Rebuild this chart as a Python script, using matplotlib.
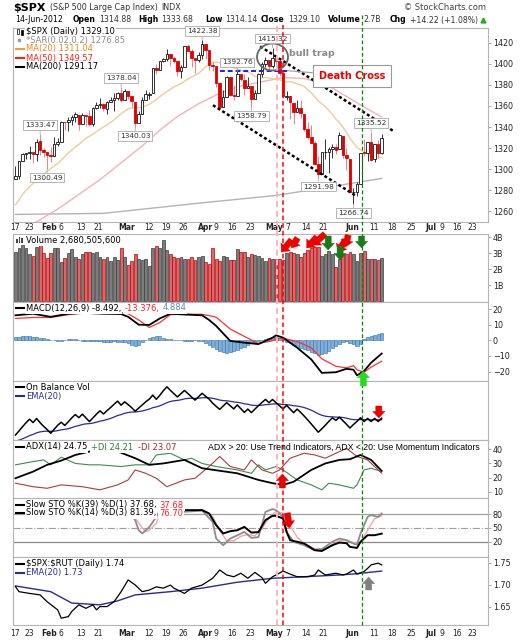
import numpy as np
import pandas as pd
import matplotlib
matplotlib.use('Agg')
import matplotlib.pyplot as plt
from matplotlib.lines import Line2D
from matplotlib.patches import Ellipse, FancyArrowPatch, Rectangle
from matplotlib.transforms import blended_transform_factory

plt.rcParams['font.family'] = ['DejaVu Sans']

# ---------------- data: $SPX daily, 17-Jan-2012 .. 14-Jun-2012 ----------------
opens = [1290.22, 1293.65, 1308.07, 1314.49, 1315.29, 1315.96, 1314.40, 1326.28, 1318.25, 1316.16, 1313.53,
         1312.45, 1324.24, 1326.21, 1344.32, 1344.33, 1347.04, 1349.97, 1351.21, 1343.06, 1351.30,
         1350.52, 1342.61, 1358.06, 1361.22, 1362.11, 1357.53, 1363.46, 1365.20, 1367.56, 1372.20,
         1365.90, 1374.09, 1369.59, 1363.63, 1343.39, 1352.65, 1365.97, 1370.78, 1371.92, 1395.95,
         1394.17, 1402.55, 1404.17, 1409.59, 1405.52, 1402.89, 1392.78, 1397.11, 1416.55, 1412.52, 1405.39, 1403.31,
         1408.47, 1418.98, 1413.09, 1398.79, 1397.45, 1382.18, 1358.98, 1368.77, 1387.61, 1370.27,
         1369.57, 1390.78, 1385.08, 1376.96, 1378.53, 1366.97, 1372.11, 1390.64, 1400.19, 1403.26,
         1397.86, 1405.50, 1402.32, 1391.51, 1368.79, 1369.16, 1363.20, 1354.58, 1358.11, 1351.93,
         1338.36, 1330.78, 1324.82, 1305.05, 1295.73, 1316.09, 1316.02, 1318.72, 1320.81, 1318.90, 1331.25, 1313.09,
         1309.87, 1278.29, 1277.82, 1285.61, 1316.15, 1314.99, 1325.72, 1309.40, 1324.02, 1314.88]
highs = [1303.00, 1308.11, 1315.49, 1315.38, 1322.28, 1315.96, 1328.30, 1333.47, 1320.06, 1316.16, 1321.41,
         1330.52, 1329.19, 1345.34, 1344.36, 1349.24, 1351.00, 1354.32, 1351.21, 1353.35, 1351.30,
         1355.87, 1359.02, 1363.40, 1367.76, 1362.70, 1364.24, 1368.92, 1371.94, 1373.09, 1378.04,
         1376.17, 1374.53, 1369.59, 1363.63, 1354.85, 1368.72, 1374.76, 1373.04, 1396.13, 1399.42,
         1402.63, 1405.88, 1414.00, 1409.59, 1407.75, 1402.89, 1399.18, 1416.58, 1419.15, 1413.65, 1405.39, 1410.89,
         1422.38, 1419.00, 1413.09, 1401.60, 1397.45, 1383.01, 1374.71, 1388.13, 1387.61, 1379.66,
         1392.76, 1390.78, 1390.46, 1387.40, 1378.53, 1375.57, 1391.37, 1402.09, 1406.64, 1403.26,
         1415.32, 1405.50, 1403.07, 1391.51, 1373.91, 1369.16, 1363.73, 1365.88, 1365.66, 1351.93,
         1344.94, 1341.78, 1326.36, 1312.24, 1316.39, 1328.49, 1320.71, 1324.14, 1324.20, 1334.93, 1331.25, 1319.74,
         1309.87, 1282.55, 1287.62, 1315.13, 1329.05, 1325.81, 1335.52, 1324.31, 1327.28, 1333.68]
lows = [1290.22, 1290.99, 1308.07, 1309.17, 1309.89, 1306.06, 1307.65, 1313.60, 1311.72, 1300.49, 1306.69,
        1312.45, 1321.57, 1326.21, 1337.52, 1335.92, 1341.95, 1344.63, 1337.35, 1343.06, 1340.83,
        1340.80, 1341.22, 1357.24, 1358.11, 1355.53, 1352.28, 1363.46, 1354.92, 1365.97, 1363.81,
        1365.90, 1366.42, 1359.13, 1340.03, 1343.39, 1352.65, 1365.97, 1366.69, 1371.92, 1389.97,
        1394.17, 1401.47, 1402.43, 1397.68, 1400.64, 1388.73, 1386.87, 1397.11, 1411.95, 1397.20, 1391.56, 1401.42,
        1404.46, 1404.62, 1394.09, 1392.92, 1378.24, 1357.38, 1358.98, 1368.77, 1369.85, 1365.38,
        1369.57, 1383.29, 1370.30, 1376.96, 1358.79, 1366.82, 1372.11, 1387.28, 1397.31, 1394.00,
        1395.73, 1393.92, 1388.71, 1367.96, 1365.97, 1347.75, 1343.13, 1354.58, 1348.89, 1336.61,
        1328.41, 1324.79, 1304.86, 1291.98, 1295.73, 1310.04, 1296.53, 1310.50, 1314.23, 1318.90, 1310.76, 1298.90,
        1277.25, 1266.74, 1274.16, 1285.61, 1312.68, 1307.77, 1307.73, 1306.62, 1310.51, 1314.14]
closes = [1293.67, 1308.04, 1314.50, 1315.38, 1316.00, 1314.65, 1326.06, 1318.43, 1316.33, 1313.01, 1312.41,
          1324.09, 1325.54, 1344.90, 1344.33, 1347.05, 1349.96, 1351.95, 1342.64, 1351.77, 1350.50,
          1343.23, 1358.04, 1361.23, 1362.21, 1357.66, 1363.46, 1365.74, 1367.59, 1372.18, 1365.68,
          1374.09, 1369.63, 1364.33, 1343.36, 1352.63, 1365.91, 1370.87, 1371.09, 1395.95, 1394.28,
          1402.60, 1404.17, 1409.75, 1405.52, 1402.89, 1392.78, 1397.11, 1416.51, 1412.52, 1405.54, 1403.28, 1408.47,
          1419.04, 1413.38, 1398.96, 1398.08, 1382.20, 1358.59, 1368.71, 1387.57, 1370.26, 1369.57,
          1390.78, 1385.14, 1376.92, 1378.53, 1366.94, 1371.97, 1390.69, 1399.98, 1403.36, 1397.91,
          1405.82, 1402.31, 1391.57, 1369.10, 1369.58, 1363.72, 1354.58, 1357.99, 1353.39, 1338.35,
          1330.66, 1324.80, 1304.86, 1295.22, 1315.99, 1316.63, 1318.86, 1320.68, 1317.82, 1332.42, 1313.32, 1310.33,
          1278.04, 1278.18, 1285.50, 1315.13, 1314.99, 1325.66, 1308.93, 1324.18, 1314.88, 1329.10]
# the 19 closes before the first bar (for MA(20))
prior_closes = [1219.66, 1205.35, 1241.30, 1243.72, 1254.00, 1265.33, 1265.43, 1249.64, 1263.02, 1257.60,
                1277.06, 1277.30, 1281.06, 1277.81, 1280.70, 1292.08, 1292.48, 1295.50, 1289.09]
# volume, billions of shares
volumes = [3.08, 3.29, 3.5, 3.29, 2.94, 2.81, 3.4, 3.5, 2.98, 2.67, 3.02, 3.33, 3.29, 2.46, 2.67, 3.02, 3.23, 2.73,
           2.6, 2.92, 3.06, 3.04, 3.02, 3.06, 2.77, 2.63, 2.77, 2.5, 2.73, 2.56, 3.29, 2.73, 2.27, 2.5, 2.94, 2.6,
           2.56, 2.6, 2.19, 3.29, 3.44, 3.29, 3.81, 3.17, 2.94, 2.73, 2.67, 2.73, 2.6, 2.6, 2.77, 2.56, 2.77,
           2.81, 2.46, 2.31, 3.33, 2.6, 2.5, 2.81, 2.73, 2.56, 2.56, 3.23, 3.08, 3.04, 2.73, 2.92, 2.875, 2.81,
           2.67, 2.5, 2.67, 2.63, 2.63, 2.63, 2.56, 2.98, 3.04, 2.98, 2.92, 2.73, 2.98, 3.19, 3.29, 3.4, 3.4,
           2.81, 2.94, 3.15, 2.94, 2.1, 2.6, 2.875, 2.94, 3.08, 2.94, 2.52, 3.02, 3.15, 2.6, 2.6, 2.6, 2.56, 2.68]

ma50_x = [0, 6, 12, 18, 24, 30, 36, 41, 46, 52, 58, 64, 70, 76, 82, 88, 94, 99, 104]
ma50_v = [1238, 1250, 1262, 1276, 1290, 1306, 1322, 1337, 1350, 1362, 1372, 1379, 1383, 1387, 1386, 1381, 1369, 1359, 1349.57]
ma200_x = [0, 25, 53, 74, 89, 104]
ma200_v = [1257, 1258, 1268, 1275, 1283, 1291.17]

macd_x = [0, 5, 10, 15, 20, 25, 30, 32, 35, 38, 41, 44, 48, 53, 55, 57, 61, 65, 69, 73, 74, 76, 80, 84, 87, 91,
          94, 96, 97, 99, 101, 104]
macd_v = [16, 17, 15, 17, 17.5, 17, 16.8, 15, 10, 9.8, 14, 17, 16.5, 16, 13, 9.2, -0.4, -1.5, -2.4, 1.7, 3.2, 1.7,
          -4.7, -12.2, -20.8, -20.4, -18.2, -18.8, -22.4, -19.6, -14.3, -8.49]
macd_hist = [2.0, 2.4, 2.6, 2.8, 2.6, 2.4, 2.2, 1.8, 1.2, 0.8, 0.4, 0.2, -0.2, -0.4, 0.2, 0.6, 0.8, 0.6,
             0.2, -0.2, -0.4, -0.6, -0.5, -0.4, -0.6, -0.8, -1.0, -0.8, -0.6, -0.8, -1.0, -1.2,
             -2.0, -3.0, -3.6, -3.0, -1.2, 0.4, 1.6, 2.4, 2.8, 2.6, 1.8, 1.0,
             0.6, 0.4, 0.2, 0.0, -0.2, -0.4, -0.2, 0.0, -0.2, -0.6, -1.4,
             -2.8, -4.2, -5.6, -6.8, -7.6, -8.0, -7.6, -7.0, -6.2, -5.0,
             -4.0, -3.0, -2.0, -1.2, -0.4, 0.2, 0.8, 1.4, 2.0, 2.2, 1.6, 0.4,
             -1.0, -2.0, -3.0, -4.0, -4.6, -5.4, -6.4, -7.4, -8.4, -9.2,
             -9.0, -8.2, -6.8, -5.2, -3.8, -2.4, -1.2, -0.6, -1.4, -2.6, -3.6, -2.2,
             0.8, 2.2, 2.8, 3.6, 4.2, 4.9]

adx_x = [0, 5, 9, 13, 17, 21, 24, 29, 34, 38, 42, 48, 53, 63, 69, 73, 76, 79, 84, 88, 92, 95, 98, 101, 104]
adx_v = [19.5, 24.2, 29, 32, 36, 38.4, 39.6, 38.5, 33.7, 29, 30, 32.5, 26.6, 23, 18.3, 16, 14.8, 17, 25.4, 30,
         32.5, 33, 36, 32.5, 24.75]
pdi_x = [0, 5, 8, 10, 13, 17, 21, 24, 30, 34, 38, 40, 44, 48, 50, 53, 57, 63, 67, 69, 71, 74, 76, 80, 84, 87,
         89, 92, 96, 97, 99, 101, 104]
pdi_v = [29, 31.3, 32.5, 29, 34.4, 30, 29, 29, 27.8, 29, 29, 36, 37.2, 32.5, 33.7, 30, 27.8, 25.4, 23, 29, 25.4,
         27.8, 25.4, 18.3, 14.8, 11.3, 16, 14.8, 12.4, 14.8, 25.4, 26.6, 24.21]
mdi_x = [0, 5, 9, 13, 19, 24, 29, 32, 34, 37, 40, 43, 48, 51, 55, 58, 61, 65, 67, 70, 73, 75, 78, 82, 85, 88,
         91, 94, 97, 100, 104]
mdi_v = [16, 13.5, 12.4, 14.8, 13.5, 11.3, 14.8, 18.3, 25.4, 23, 19.5, 13.5, 18.3, 19.5, 27.8, 34.9, 27.8, 25.4,
         32.5, 25.4, 23, 25.4, 33.7, 37.2, 36, 33.7, 37.2, 40.7, 34.9, 32.5, 23.07]

k39_x = [45, 53, 55, 57, 59, 61, 63, 65, 67, 69, 71, 73, 74, 76, 77, 78, 80, 82, 85, 87, 90, 92, 94, 95, 97, 98,
         100, 102, 104]
k39_v = [88.7, 88.7, 81.5, 56, 38, 43, 45, 52.4, 40, 41, 67, 76.3, 76.3, 70.6, 41.5, 23.5, 20, 16.3, 1.7, 0,
         12.6, 18.3, 17, 9, 6.7, 20, 34.3, 34.3, 37.68]
k14_x = [32, 34, 35, 36, 38, 40, 41, 45, 50, 53, 56, 57, 59, 61, 63, 65, 67, 69, 71, 73, 74, 76, 77, 79, 82, 85,
         87, 90, 92, 94, 96, 97, 98, 100, 101, 103, 104]
k14_v = [88, 67, 45, 38, 52, 74, 88, 84, 86, 88, 63, 27, 12.6, 27, 34, 41.5, 28.5, 30, 85, 91, 88.7, 74, 41.5,
         20, 12.6, 1.7, 4, 20, 27, 23.5, 16, 14, 38, 74, 78, 74, 81.39]
d3_x = [32, 34, 36, 37, 38, 40, 41, 45, 53, 56, 58, 60, 62, 64, 66, 68, 70, 72, 74, 76, 78, 80, 82, 85, 88, 90,
        92, 94, 96, 98, 100, 102, 104]
d3_v = [88, 72, 50, 42, 45, 60, 80, 86, 88, 75, 45, 22, 22, 32, 36, 33, 48, 72, 86, 82, 55, 30, 16, 5, 5, 14,
        22, 24, 18, 18, 45, 70, 76.7]

ratio_x = [0, 1, 4, 7, 9, 12, 13, 15, 16, 18, 20, 22, 23, 24, 26, 28, 30, 32, 34, 36, 38, 40, 42, 44, 45, 48,
           50, 53, 56, 58, 60, 62, 64, 66, 68, 70, 71, 73, 74, 76, 78, 80, 83, 85, 86, 88, 91, 93, 94, 96, 97,
           99, 100, 101, 103, 104]
ratio_v = [1.6955, 1.684, 1.680, 1.6766, 1.661, 1.6425, 1.6236, 1.627, 1.639, 1.654, 1.646, 1.654, 1.6425,
           1.650, 1.650, 1.661, 1.684, 1.7107, 1.6993, 1.684, 1.6876, 1.695, 1.692, 1.699, 1.692, 1.680, 1.692,
           1.699, 1.7145, 1.7334, 1.722, 1.718, 1.726, 1.7145, 1.728, 1.716, 1.703, 1.718, 1.722, 1.731, 1.724,
           1.718, 1.718, 1.722, 1.7334, 1.722, 1.726, 1.722, 1.724, 1.7334, 1.724, 1.73, 1.737, 1.745, 1.749, 1.745]
rema_x = [0, 10, 16, 24, 29, 34, 44, 53, 63, 73, 82, 92, 97, 104]
rema_v = [1.697, 1.684, 1.658, 1.654, 1.663, 1.6766, 1.684, 1.692, 1.7055, 1.7145, 1.718, 1.722, 1.725, 1.731]

# annotated highs/lows: (bar index, price, side)
price_labels = [(7, 1333.47, 'up'), (9, 1300.49, 'down'), (30, 1378.04, 'up'), (34, 1340.03, 'down'),
                (53, 1422.38, 'up'), (63, 1392.76, 'up'), (67, 1358.79, 'down'), (73, 1415.32, 'up'),
                (86, 1291.98, 'down'), (96, 1266.74, 'down'), (101, 1335.52, 'up')]

date_pos = [0, 4, 9.6, 13.0, 18.7, 23.6, 31.7, 38, 42.7, 47.8, 53.9, 56.8, 61.6, 66.6, 73.5, 77.2, 82.4, 87.3,
            95.7, 101.7, 107, 112.5, 118, 121.2, 125.4, 129.8]
date_text = ['17', '23', 'Feb', '6', '13', '21', 'Mar', '12', '19', '26', 'Apr', '9', '16', '23', 'May', '7',
             '14', '21', 'Jun', '11', '18', '25', 'Jul', '9', '16', '23']
months = {'Feb', 'Mar', 'Apr', 'May', 'Jun', 'Jul'}

# ---------------- layout ----------------
W, H = 529, 640
L, R = 13, 488
X0, X1 = -0.7, 134.2

fig = plt.figure(figsize=(W / 100, H / 100), dpi=100)


def fy(py):
    return 1 - py / H


def panel(top, bottom):
    ax = fig.add_axes([L / W, 1 - bottom / H, (R - L) / W, (bottom - top) / H])
    ax.set_xlim(X0, X1)
    ax.set_xticks([])
    for s in ax.spines.values():
        s.set_color('#b5b5b5')
        s.set_linewidth(0.8)
    ax.yaxis.tick_right()
    ax.tick_params(axis='y', labelsize=5.8, length=2, width=0.6, color='#999999', pad=1.5,
                   labelcolor='#222222')
    return ax


x = np.arange(len(closes))
o = np.array(opens)
h = np.array(highs)
lo = np.array(lows)
c = np.array(closes)
prev = np.r_[prior_closes[-1], c[:-1]]
up = c >= prev

# ---- price panel ----
ax = panel(28, 222)
ax.set_ylim(1249.8, 1434)
ax.set_yticks(range(1260, 1421, 20))

ma20 = pd.Series(prior_closes + closes).rolling(20).mean().to_numpy()[len(prior_closes):]
ax.plot(ma200_x, ma200_v, color='#b4b4b4', lw=1.0, zorder=1)
ax.plot(ma50_x, ma50_v, color='#f6b2b2', lw=1.0, zorder=1)
ax.plot(x, ma20, color='#f0cc98', lw=1.0, zorder=1)

col = np.where(up, '#111111', '#e00000')
wick = np.where(up, '#333333', '#f08080')
ax.vlines(x, lo, h, colors=wick, lw=0.7, zorder=2)
body_lo = np.minimum(o, c)
body_h = np.maximum(np.abs(c - o), 0.5)
face = [cc if cl < op else 'white' for cc, cl, op in zip(col, c, o)]
ax.bar(x, body_h, bottom=body_lo, width=0.72, color=face, edgecolor=col, linewidth=0.6, zorder=3)

for i, v, side in price_labels:
    dy = 6.5 if side == 'up' else -6.5
    ax.annotate(f'{v:.2f}', xy=(i, v), xytext=(0, dy), textcoords='offset points', ha='center', va='center',
                fontsize=5.3, color='#333333', zorder=6,
                bbox=dict(boxstyle='square,pad=0.25', fc='white', ec='#aaaaaa', lw=0.6),
                arrowprops=dict(arrowstyle='-', color='#aaaaaa', lw=0.6, shrinkA=0, shrinkB=0))

# channel lines, resistance level, bull trap, death cross
ax.plot([69.5, 107.5], [1416.5, 1335.8], color='black', lw=1.8, ls=(0, (1.2, 1.0)), zorder=4)
ax.plot([56.1, 97], [1360.7, 1274.0], color='black', lw=1.8, ls=(0, (1.2, 1.0)), zorder=4)
ax.plot([58, 77.5], [1392.76, 1392.76], color='#1a1aff', lw=1.4, ls=(0, (2.5, 1.5)), zorder=4)
ax.add_patch(Ellipse((73, 1406.5), 8.8, 25.6, fill=False, ec='#666666', lw=1.3, zorder=5))
ax.text(77.8, 1409.5, 'bull trap', fontsize=6.8, fontweight='bold', color='#8a8a8a', va='center', zorder=6)
ax.annotate('Death Cross', xy=(77.2, 1393.5), xytext=(95.5, 1388.5), ha='center', va='center', fontsize=7,
            fontweight='bold', color='#ee0000', zorder=6,
            bbox=dict(boxstyle='square,pad=0.6', fc='white', ec='#999999', lw=0.8),
            arrowprops=dict(arrowstyle='-', color='#999999', lw=0.8, shrinkA=0, shrinkB=0))
ax_main = ax

# ---- volume ----
ax = panel(234, 302)
ax.set_ylim(-0.06, 4.19)
ax.set_yticks([1, 2, 3, 4])
ax.set_yticklabels(['1B', '2B', '3B', '4B'])
ax.bar(x, volumes, width=0.82, color=np.where(up, '#7c7c7c', '#d56a6e'),
       edgecolor=np.where(up, '#3c3c3c', '#c00000'), linewidth=0.5)

# ---- MACD ----
ax = panel(302, 381)
ax.set_ylim(-26, 24.5)
ax.set_yticks([-20, -10, 0, 10, 20])
hist = np.array(macd_hist)
ax.bar(x, hist, width=0.9, color='#7fb0da', edgecolor='#2f6fb0', linewidth=0.4)
signal_v = np.array(macd_v) - hist[macd_x]
ax.plot(macd_x, signal_v, color='#ff3030', lw=0.9)
ax.plot(macd_x, macd_v, color='black', lw=1.3)

# ---- On Balance Volume ----
ax = panel(381, 440)
step = np.sign(c - prev) * np.array(volumes)
step[0] = 0
obv = np.cumsum(step)
obv_ema = [obv[0] - 5.0]
for val in obv[1:]:
    obv_ema.append(obv_ema[-1] + 2 / 21 * (val - obv_ema[-1]))
ax.set_ylim(-4.1, 44.4)
ax.set_yticks([])
ax.plot(x, obv_ema, color='#2a2a9a', lw=0.9)
ax.plot(x, obv, color='black', lw=1.1)

# ---- ADX ----
ax = panel(440, 498)
ax.set_ylim(5.5, 46.6)
ax.set_yticks([10, 20, 30, 40])
ax.plot(pdi_x, pdi_v, color='#3d8b4f', lw=0.8)
ax.plot(mdi_x, mdi_v, color='#b03a3a', lw=0.8)
ax.plot(adx_x, adx_v, color='black', lw=1.3)

# ---- Slow stochastics ----
ax = panel(498, 557)
ax.set_ylim(-13, 115)
ax.set_yticks([20, 50, 80])
ax.axhline(80, color='#a0a0a0', lw=0.9)
ax.axhline(50, color='#a0a0a0', lw=0.8, ls='-.')
ax.axhline(20, color='#888888', lw=0.9)
ax.plot(d3_x, d3_v, color='#f4a6a6', lw=1.0)
ax.plot(k14_x, k14_v, color='#8c8c8c', lw=1.3)
ax.plot(k39_x, k39_v, color='black', lw=1.4)

# ---- $SPX:$RUT ----
ax = panel(557, 625)
ax.set_ylim(1.608, 1.763)
ax.set_yticks([1.65, 1.70, 1.75])
ax.set_yticklabels(['1.65', '1.70', '1.75'])
ax.plot(rema_x, rema_v, color='#28289a', lw=1.0)
ax.plot(ratio_x, ratio_v, color='black', lw=0.9)

bt = blended_transform_factory(ax_main.transData, fig.transFigure)

# date rows
for py in (228, 633):
    for p, t in zip(date_pos, date_text):
        fig.text(p, fy(py), t, transform=bt, ha='center', va='center', fontsize=5.5,
                 fontweight='bold' if t in months else 'normal', color='#222222')

# vertical event lines over all panels
for xi, col_, top, lw_ in [(74.4, '#ffb4b4', 25, 1.4), (76.1, '#ff0000', 25, 1.1), (98.3, '#008800', 15, 0.9)]:
    fig.add_artist(Line2D([xi, xi], [fy(625), fy(top)], transform=bt, color=col_, lw=lw_,
                          ls=(0, (3, 2)), zorder=4))


def arrow(x0, y0, x1, y1, color):
    fig.add_artist(FancyArrowPatch((x0, fy(y0)), (x1, fy(y1)), transform=bt, mutation_scale=8,
                                   arrowstyle='simple,head_length=0.6,head_width=1.1,tail_width=0.55',
                                   fc=color, ec=color, lw=0.3, shrinkA=0, shrinkB=0, zorder=5))


for x0, y0, x1, y1 in [(78.4, 240, 75.5, 252), (80.1, 238, 78.4, 248), (85.6, 237, 82.7, 248),
                       (87.9, 234, 84.4, 245), (93.7, 240, 91.6, 252), (94.5, 235, 93.7, 247)]:
    arrow(x0, y0, x1, y1, '#ee0000')
for xi, y0, y1 in [(88.8, 236, 250), (92.2, 246, 260), (98.3, 236, 248)]:
    arrow(xi, y0, xi, y1, '#1a7a1a')
arrow(98.8, 386, 98.8, 371, '#22dd22')
arrow(103.2, 406, 103.2, 418, '#ee0000')
arrow(75.8, 488, 75.8, 474, '#ee0000')
arrow(77.2, 513, 77.8, 528, '#ee0000')
arrow(100.3, 590, 100.3, 577, '#808080')

# ---------------- texts ----------------
rend = fig.canvas.get_renderer()


def put(x_px, y_px, parts, size=6.0, bg=True, family=None):
    xp = x_px
    for p in parts:
        if isinstance(p, (int, float)):
            xp += p
            continue
        s, colr, wt = p
        kw = dict(color=colr, fontsize=size, fontweight=wt, va='center', ha='left', zorder=5)
        if family:
            kw['family'] = family
        if bg:
            kw['bbox'] = dict(boxstyle='square,pad=0.12', fc='white', ec='none')
        t = fig.text(xp / W, fy(y_px), s, **kw)
        xp += t.get_window_extent(renderer=rend).width
    return xp


def key_line(y_px, colr):
    fig.add_artist(Line2D([16 / W, 24 / W], [fy(y_px), fy(y_px)], transform=fig.transFigure,
                          color=colr, lw=1.5, zorder=6))


# header
e = put(13, 8, [('$SPX', 'black', 'bold')], size=8.0, bg=False)
put(e + 4, 8, [('(S&P 500 Large Cap Index)', '#333333', 'normal'), 4, ('INDX', '#333333', 'normal')],
    size=5.8, bg=False)
fig.text(486 / W, fy(8), '\u00a9 StockCharts.com', ha='right', va='center', fontsize=6, color='#444444')
row2 = [(15, [('14-Jun-2012', 'black', 'normal')]),
        (73, [('Open', 'black', 'bold'), 3, ('1314.88', '#333333', 'normal')]),
        (138, [('High', 'black', 'bold'), 3, ('1333.68', '#333333', 'normal')]),
        (205, [('Low', 'black', 'bold'), 3, ('1314.14', '#333333', 'normal')]),
        (261, [('Close', 'black', 'bold'), 3, ('1329.10', '#333333', 'normal')]),
        (328, [('Volume', 'black', 'bold'), 3, ('2.7B', '#333333', 'normal')]),
        (390, [('Chg', 'black', 'bold'), 3, ('+14.22 (+1.08%)', '#333333', 'normal')])]
for xs, parts in row2:
    put(xs, 20, parts, size=5.6, bg=False)
fig.add_artist(Line2D([483 / W], [fy(20)], transform=fig.transFigure, marker='^', ms=3.5,
                      color='#22aa22', ls='none'))

# price legend
put(26, 31, [('$SPX (Daily) 1329.10', 'black', 'normal')])
fig.add_artist(Rectangle((16.5 / W, fy(34)), 2 / W, 5 / H, transform=fig.transFigure, fc='white', ec='black',
                         lw=0.5, zorder=6))
fig.add_artist(Rectangle((20.5 / W, fy(35)), 2 / W, 5 / H, transform=fig.transFigure, fc='black', ec='black',
                         lw=0.5, zorder=6))
put(26, 40, [('*SAR(0.02,0.2) 1276.85', '#8c8c8c', 'normal')])
fig.add_artist(Line2D([19 / W], [fy(40)], transform=fig.transFigure, marker='s', ms=2, color='#9a9a9a',
                      ls='none', zorder=6))
put(26, 49, [('MA(20) 1311.04', '#e08a1e', 'normal')])
key_line(49, '#e8a040')
put(26, 58, [('MA(50) 1349.57', '#ff2020', 'normal')])
key_line(58, '#ff2020')
put(26, 67, [('MA(200) 1291.17', 'black', 'normal')])
key_line(67, 'black')

# volume legend
put(26, 240, [('Volume 2,680,505,600', 'black', 'normal')])
for k, hh in enumerate([4, 6, 5]):
    fig.add_artist(Rectangle(((16 + 2.6 * k) / W, fy(243)), 1.8 / W, hh / H, transform=fig.transFigure,
                             fc='#444444', ec='none', zorder=6))

put(26, 308, [('MACD(12,26,9) -8.492,', 'black', 'normal'), 3, ('-13.376,', '#ff2020', 'normal'), 3,
              ('4.884', '#4f8fc8', 'normal')])
key_line(308, 'black')

put(26, 387, [('On Balance Vol', 'black', 'normal')])
key_line(387, 'black')
put(26, 396, [('EMA(20)', '#2a2a9a', 'normal')])
key_line(396, '#2a2a9a')

put(26, 447, [('ADX(14) 24.75', 'black', 'normal'), 4, ('+DI 24.21', '#2e7d32', 'normal'), 4,
              ('-DI 23.07', '#a52a2a', 'normal')])
key_line(447, 'black')
fig.text(480 / W, fy(447), 'ADX > 20: Use Trend Indicators, ADX < 20: Use Momentum Indicators', ha='right',
         va='center', fontsize=6.3, family='Liberation Sans', color='black', zorder=5)

put(26, 505, [('Slow STO %K(39) %D(1) 37.68,', 'black', 'normal'), 3, ('37.68', '#ff2020', 'normal')])
key_line(505, 'black')
put(26, 513, [('Slow STO %K(14) %D(3) 81.39,', 'black', 'normal'), 3, ('76.70', '#ff2020', 'normal')])
key_line(513, 'black')

put(26, 564, [(r'\$SPX:\$RUT (Daily) 1.74', 'black', 'normal')])
key_line(564, 'black')
put(26, 573, [('EMA(20) 1.73', '#2a2a9a', 'normal')])
key_line(573, '#2a2a9a')

fig.savefig('out.png', dpi=100)
